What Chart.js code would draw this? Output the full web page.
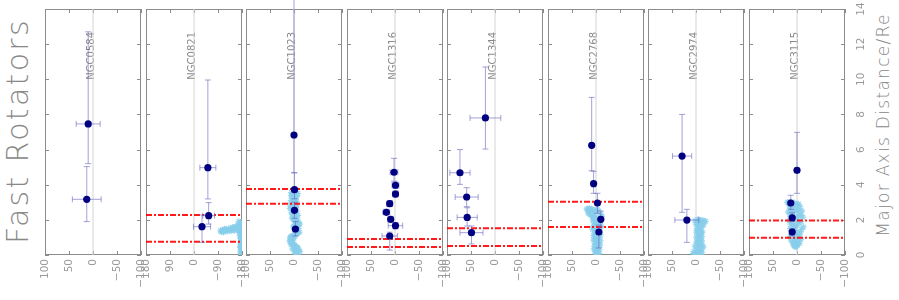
<!DOCTYPE html>
<html lang="en">
<head>
<meta charset="UTF-8">
<title>Fast Rotators</title>
<script src="https://cdn.jsdelivr.net/npm/chart.js@4.4.1/dist/chart.umd.min.js"></script>
<style>
  html, body { margin: 0; padding: 0; background: #fff; }
  #wrap { position: relative; width: 899px; height: 300px; overflow: hidden; }
  #wrap canvas { position: absolute; top: 0; }
  .side-title {
    position: absolute; white-space: nowrap; color: #888;
    font-family: 'DejaVu Sans', sans-serif;
    transform: translate(-50%, -50%) rotate(-90deg);
  }
</style>
</head>
<body>
<div id="wrap">
  <div class="side-title" style="left:17px; top:131px; font-size:30px; letter-spacing:2.3px; font-weight:200;">Fast Rotators</div>
  <div class="side-title" style="left:883px; top:125px; font-size:17px; letter-spacing:1.3px; font-weight:200;">Major Axis Distance/Re</div>
</div>
<script>
  // panels
  const panelNames = ['NGC0584', 'NGC0821', 'NGC1023', 'NGC1316', 'NGC1344', 'NGC2768', 'NGC2974', 'NGC3115'];
  const xLimits = [100, 180, 100, 100, 100, 100, 100, 100];
  const xTickVals = [
    [100, 50, 0, -50, -100], [180, 90, 0, -90, -180], [100, 50, 0, -50, -100], [100, 50, 0, -50, -100],
    [100, 50, 0, -50, -100], [100, 50, 0, -50, -100], [100, 50, 0, -50, -100], [100, 50, 0, -50, -100]
  ];
  const yTickVals = [0, 2, 4, 6, 8, 10, 12, 14];

  // measured points with error bars
  const ptX = [
    [10, 13], [-52, -55, -30], [0, -1, -1, -3], [2, -1, -1, 11, 18, 9, -1, 11],
    [20, 73, 59, 58, 49], [9, 5, -3, -10, -6], [29, 19], [0, 13, 10, 10]
  ];
  const ptY = [
    [7.46, 3.17], [4.97, 2.24, 1.61], [6.83, 3.72, 2.54, 1.48], [4.71, 3.97, 3.47, 2.92, 2.43, 2.03, 1.67, 1.08],
    [7.8, 4.68, 3.3, 2.14, 1.27], [6.24, 4.06, 2.96, 2.03, 1.31], [5.63, 1.99], [4.82, 2.96, 2.12, 1.31]
  ];
  const ptXErr = [
    [25, 30], [30, 22, 32], [2, 2, 2, 2], [8, 7, 6, 6, 7, 6, 15, 16],
    [32, 21, 24, 21, 24], [3, 3, 3, 4, 4], [20, 25], [5, 4, 4, 4]
  ];
  const ptYLo = [
    [5.2, 1.9], [3.19, 1.76, 0.72], [4.68, 3.2, 2.09, 1.08], [4.2, 3.8, 3.3, 2.75, 2.3, 1.9, 1.5, 0.28],
    [6.03, 4.02, 2.75, 1.65, 0.63], [4.8, 3.51, 2.37, 1.6, 0.4], [2.43, 0.72], [3.51, 2.6, 1.9, 1.1]
  ];
  const ptYHi = [
    [12.7, 5.03], [9.96, 2.98, 2.28], [15.5, 4.68, 3.0, 1.9], [5.5, 4.15, 3.65, 3.1, 2.6, 2.2, 1.85, 1.3],
    [10.7, 6.0, 3.83, 2.69, 1.65], [8.97, 4.76, 3.51, 2.5, 1.7], [8.0, 2.6], [6.98, 3.4, 2.4, 1.5]
  ];

  // red dash-dot radii
  const redLines = [[], [2.28, 0.76], [3.76, 2.92], [0.91, 0.46], [1.52, 0.51], [3.03, 1.59], [], [1.97, 0.98]];

  // kinematic profile (light blue stars)
  const starX = [
    [],
    [-177, -175, -178, -174, -177, -179, -175, -172, -177, -170, -174, -168, -176, -178,
     -100, -106, -112, -118, -124, -130, -136, -142, -148, -154, -160, -165, -170, -110, -140, -157,
     -176, -179, -173, -178, -175, -177, -178, -174, -179, -172, -166, -162, -103, -115, -127, -145, -152],
    [2, -4, -8, 1, 4, -3, 6, -2, 3, 7, -4, 2, -6, 5, 0, -3, 4, -7, -2, -10, -5, 1, -9, -4, -11, -2,
     3, 8, 4, 9, 2, 6, -3, -8, 0, -10, -5, -2, 5, -6,
     -1, 6, -6, 0, -5, 5, 0, 8, -2, 3, -8, 1, -5, -12, 0, -7, -1, -8, -4, 6, 0, 7, 5, -1, -6, 3, -12, -7],
    [],
    [],
    [19, 14, 9, 4, -2, -6, 15, 10, 16, 12, 6, -12, 8, 3, -8, 6, -4, 2, -10, 4, -2, 7, -6, 3, -9, 1,
     -5, 5, -3, 2, -8, -1, 4, -4, 0, -6, 1, -1,
     17, 11, 1, 13, -10, 9, 0, 5, -6, -1, 6, -8, 1, -4, 5, -7, 2, -9, 0, -5, 3, -3, -7, 2, -2],
    [2, -6, -14, -20, -3, -10, -5, -12, -2, -8, -13, -4, -9, -1, -7, -12, -3, -8, 2, -5, -11, 4, -2,
     -8, 6, -15, -6, -10,
     -4, -10, -17, 0, -7, -15, -4, -10, -1, -6, -12, -4, -9, -1, -6, -13, -2, -8, 0, -12],
    [20, 12, 5, -3, 16, 8, -6, 14, 2, -10, 18, 9, -4, 13, -12, 5, 16, -8, 10, 0, -13, 14, 4, -7, 11,
     -2, 8, -8, 12, 3, -5, 7, 0, 4, 10, -1, 6, 1,
     17, 8, 0, 11, -3, 6, 15, -8, 2, 9, -4, 13, 4, -9, 8, 0, -5, 14, 4, -3, 9, -1, 6, 2]
  ];
  const starY = [
    [],
    [0.05, 0.2, 0.35, 0.5, 0.65, 0.8, 0.95, 1.1, 1.2, 1.6, 1.75, 1.9, 1.85, 1.5,
     1.38, 1.42, 1.36, 1.45, 1.4, 1.5, 1.44, 1.52, 1.46, 1.55, 1.5, 1.42, 1.35, 1.3, 1.38, 1.62,
     0.12, 0.28, 0.42, 0.58, 0.72, 0.9, 1.05, 1.3, 1.4, 1.25, 1.7, 1.6, 1.33, 1.48, 1.35, 1.58, 1.4],
    [3.7, 3.6, 3.5, 3.45, 3.3, 3.2, 3.1, 3.0, 2.9, 2.8, 2.7, 2.6, 2.5, 2.4, 2.3, 2.2, 2.1, 2.0, 1.9, 1.8,
     1.7, 1.6, 1.5, 1.4, 1.3, 1.2, 1.1, 1.0, 0.9, 0.8, 0.7, 0.6, 0.5, 0.4, 0.3, 0.25, 0.15, 0.08, 3.55, 2.85,
     3.65, 3.4, 3.35, 3.15, 3.05, 2.95, 2.75, 2.65, 2.45, 2.35, 2.25, 2.05, 1.95, 1.75, 1.65, 1.55, 1.45,
     1.25, 1.15, 1.05, 0.95, 0.85, 0.65, 0.55, 0.45, 0.35, 0.2, 0.05],
    [],
    [],
    [2.62, 2.66, 2.6, 2.55, 2.6, 2.5, 2.5, 2.45, 2.38, 2.3, 2.35, 2.2, 2.2, 2.1, 2.05, 1.95, 1.9, 1.8,
     1.7, 1.65, 1.55, 1.45, 1.35, 1.25, 1.15, 1.05, 0.95, 0.85, 0.75, 0.65, 0.55, 0.45, 0.35, 0.25,
     0.15, 0.08, 2.0, 1.2,
     2.58, 2.62, 2.5, 2.4, 2.3, 2.3, 2.15, 2.0, 1.85, 1.75, 1.6, 1.5, 1.4, 1.3, 1.1, 1.0, 0.9, 0.8, 0.7,
     0.6, 0.5, 0.4, 0.3, 0.2, 0.05],
    [1.95, 2.0, 1.98, 1.92, 1.85, 1.8, 1.7, 1.6, 1.5, 1.4, 1.3, 1.2, 1.1, 1.0, 0.9, 0.8, 0.7, 0.6,
     0.5, 0.4, 0.3, 0.2, 0.12, 0.05, 0.08, 0.45, 1.55, 1.25,
     2.02, 1.95, 1.88, 1.75, 1.65, 1.7, 1.45, 1.35, 1.3, 1.15, 1.05, 0.95, 0.85, 0.75, 0.65, 0.55, 0.35,
     0.25, 0.02, 0.15],
    [3.0, 3.02, 2.95, 2.9, 2.85, 2.8, 2.75, 2.65, 2.6, 2.5, 2.45, 2.4, 2.3, 2.2, 2.15, 2.05, 1.95, 1.9,
     1.8, 1.7, 1.6, 1.5, 1.4, 1.3, 1.2, 1.1, 1.0, 0.9, 0.85, 0.75, 0.65, 0.6, 0.55, 0.5, 2.6, 2.0, 1.6, 0.95,
     2.98, 2.92, 2.88, 2.7, 2.55, 2.5, 2.35, 2.25, 2.15, 2.1, 1.85, 1.75, 1.65, 1.45, 1.35, 1.25, 1.15,
     1.05, 0.9, 0.8, 0.7, 0.62, 0.52, 0.45]
  ];

  const panelLeft = [45, 146, 246, 347, 447, 548, 648, 749];

  const frameColor = '#8c8c8c';
  const errColor = 'rgba(100,100,190,0.6)';

  Chart.defaults.font.family = "'DejaVu Sans', sans-serif";

  const panelDecor = {
    id: 'panelDecor',
    beforeDatasetsDraw(chart, args, opts) {
      const i = opts.index;
      const ctx = chart.ctx;
      const ca = chart.chartArea;
      const xs = chart.scales.x, ys = chart.scales.y;
      ctx.save();
      // frame + inner ticks
      ctx.strokeStyle = frameColor;
      ctx.lineWidth = 1;
      ctx.strokeRect(ca.left + 0.5, ca.top + 0.5, ca.width - 1, ca.height - 1);
      ctx.beginPath();
      xTickVals[i].forEach(v => {
        const px = Math.round(xs.getPixelForValue(v)) + 0.5;
        ctx.moveTo(px, ca.top); ctx.lineTo(px, ca.top + 4);
        ctx.moveTo(px, ca.bottom); ctx.lineTo(px, ca.bottom - 4);
      });
      yTickVals.forEach(v => {
        const py = Math.round(ys.getPixelForValue(v)) + 0.5;
        ctx.moveTo(ca.left, py); ctx.lineTo(ca.left + 4, py);
        ctx.moveTo(ca.right, py); ctx.lineTo(ca.right - 4, py);
      });
      ctx.stroke();
      // galaxy name
      ctx.translate(xs.getPixelForValue(0) + 1, ca.top + 23);
      ctx.rotate(-Math.PI / 2);
      ctx.fillStyle = '#888';
      ctx.font = "10px 'DejaVu Sans'";
      ctx.textAlign = 'right';
      ctx.textBaseline = 'alphabetic';
      ctx.fillText(panelNames[i], 0, 0);
      ctx.restore();
    },
    beforeDatasetDraw(chart, args, opts) {
      if (args.index !== 0) return;
      const i = opts.index;
      const ctx = chart.ctx;
      const xs = chart.scales.x, ys = chart.scales.y;
      ctx.save();
      ctx.strokeStyle = errColor;
      ctx.lineWidth = 1;
      ctx.beginPath();
      ptX[i].forEach((x, k) => {
        const px = xs.getPixelForValue(x), py = ys.getPixelForValue(ptY[i][k]);
        const x1 = xs.getPixelForValue(x - ptXErr[i][k]), x2 = xs.getPixelForValue(x + ptXErr[i][k]);
        const y1 = ys.getPixelForValue(ptYLo[i][k]), y2 = ys.getPixelForValue(ptYHi[i][k]);
        ctx.moveTo(x1, py); ctx.lineTo(x2, py);
        ctx.moveTo(x1, py - 3); ctx.lineTo(x1, py + 3);
        ctx.moveTo(x2, py - 3); ctx.lineTo(x2, py + 3);
        ctx.moveTo(px, y1); ctx.lineTo(px, y2);
        ctx.moveTo(px - 3, y1); ctx.lineTo(px + 3, y1);
        ctx.moveTo(px - 3, y2); ctx.lineTo(px + 3, y2);
      });
      ctx.stroke();
      ctx.restore();
    }
  };

  const minus = v => String(v).replace('-', '\u2212');
  const noPad = s => { s.paddingLeft = 0; s.paddingRight = 0; s.paddingTop = 0; s.paddingBottom = 0; };
  const wrap = document.getElementById('wrap');

  for (let i = 0; i < panelNames.length; i++) {
    const last = i === panelNames.length - 1;
    const left = panelLeft[i] - 10;
    const w = last ? 899 - left : 116;
    const cv = document.createElement('canvas');
    cv.width = w; cv.height = 300;
    cv.style.left = left + 'px';
    cv.style.width = w + 'px'; cv.style.height = '300px';
    wrap.appendChild(cv);

    const datasets = [{
      data: ptX[i].map((x, k) => ({x: x, y: ptY[i][k]})),
      pointRadius: 3.6, pointBackgroundColor: '#000080', pointBorderColor: '#000080', pointBorderWidth: 0
    }];
    redLines[i].forEach(v => {
      datasets.push({
        data: [{x: xLimits[i], y: v}, {x: -xLimits[i], y: v}],
        showLine: true, pointRadius: 0, borderColor: 'rgba(255,0,0,0.9)', borderWidth: 2, borderDash: [6, 2, 2, 2]
      });
    });
    datasets.push({
      data: starX[i].map((x, k) => ({x: x, y: starY[i][k]})),
      pointStyle: 'star', pointRadius: 3.3, borderWidth: 1.2,
      borderColor: 'rgba(135,206,235,0.85)', backgroundColor: 'rgba(135,206,235,0.85)'
    });
    datasets.push({
      data: [{x: 0, y: 0}, {x: 0, y: 14}],
      showLine: true, pointRadius: 0, borderColor: '#d4d4d4', borderWidth: 1
    });

    const yScale = last ? {
      position: 'right', min: 0, max: 14,
      grid: {display: false, drawTicks: false}, border: {display: false},
      afterBuildTicks: s => { s.ticks = yTickVals.map(v => ({value: v})); },
      afterFit: s => { s.width = 54; noPad(s); },
      ticks: {minRotation: 90, maxRotation: 90, crossAlign: 'center', padding: 10, color: '#999', font: {size: 10.5}}
    } : {display: false, min: 0, max: 14};

    new Chart(cv, {
      type: 'scatter',
      data: {datasets: datasets},
      options: {
        responsive: false, animation: false, devicePixelRatio: 1, events: [],
        layout: {padding: {top: 9, left: 10, right: last ? 0 : 10, bottom: 0}},
        plugins: {legend: {display: false}, tooltip: {enabled: false}, panelDecor: {index: i}},
        scales: {
          x: {
            type: 'linear', min: -xLimits[i], max: xLimits[i], reverse: true,
            grid: {display: false, drawTicks: false}, border: {display: false},
            afterBuildTicks: s => { s.ticks = xTickVals[i].map(v => ({value: v})); },
            afterFit: s => { s.height = 45; noPad(s); },
            ticks: {autoSkip: false, minRotation: 90, maxRotation: 90, padding: 4, color: '#999',
                    font: {size: 10.5}, callback: v => minus(v)}
          },
          y: yScale
        }
      },
      plugins: [panelDecor]
    });
  }
</script>
</body>
</html>
